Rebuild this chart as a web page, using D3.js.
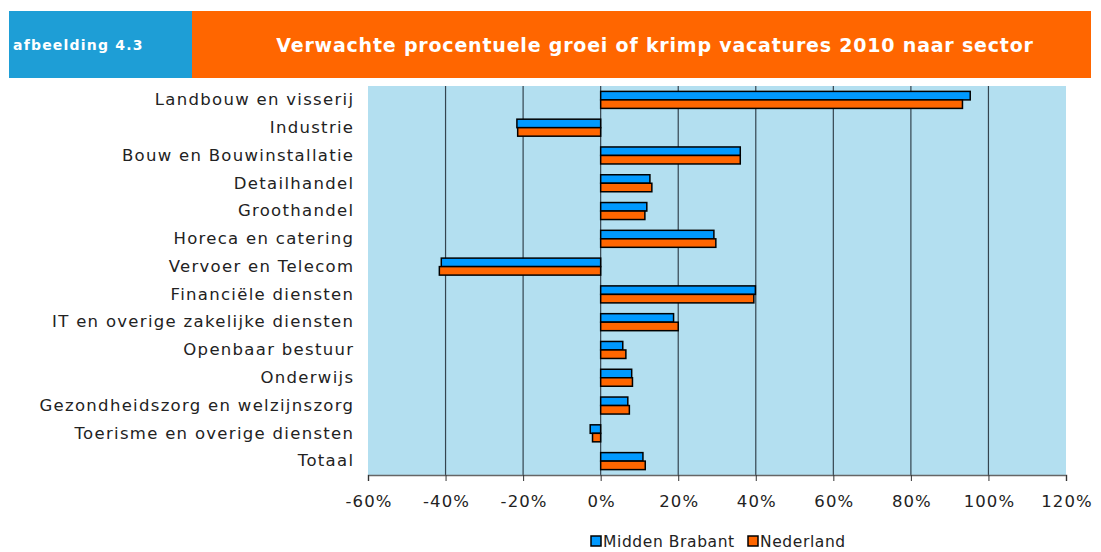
<!DOCTYPE html>
<html>
<head>
<meta charset="utf-8">
<script src="https://cdn.jsdelivr.net/npm/d3@7"></script>
<style>
  body { margin: 0; background: #fff; }
  svg { display: block; font-family: "DejaVu Sans", Verdana, sans-serif; }
</style>
</head>
<body>
<div id="chart"></div>
<script>
// Verwachte groei/krimp vacatures 2010 per sector (in %)
const sectors = [
  "Landbouw en visserij", "Industrie", "Bouw en Bouwinstallatie", "Detailhandel",
  "Groothandel", "Horeca en catering", "Vervoer en Telecom", "Financiële diensten",
  "IT en overige zakelijke diensten", "Openbaar bestuur", "Onderwijs",
  "Gezondheidszorg en welzijnszorg", "Toerisme en overige diensten", "Totaal"
];
const middenBrabant = [95.3, -21.6, 36.0, 12.7, 11.9, 29.2, -41.1, 39.9, 18.8, 5.7, 8.0, 7.0, -2.7, 10.9];
const nederland     = [93.3, -21.4, 36.0, 13.2, 11.4, 29.7, -41.6, 39.5, 20.0, 6.5, 8.2, 7.4, -2.1, 11.5];
const xTicks = [-60, -40, -20, 0, 20, 40, 60, 80, 100, 120];
const seriesNames = ["Midden Brabant", "Nederland"];
const seriesColors = ["#0099ff", "#ff6600"];

const W = 1101, H = 552;
const svg = d3.select("#chart").append("svg").attr("width", W).attr("height", H);

// kop
svg.append("rect").attr("x", 9).attr("y", 11).attr("width", 183).attr("height", 67).attr("fill", "#1e9ed6");
svg.append("rect").attr("x", 192).attr("y", 11).attr("width", 899).attr("height", 67).attr("fill", "#ff6600");
svg.append("text").attr("x", 13).attr("y", 50).attr("fill", "#fff")
  .attr("font-size", 14).attr("font-weight", "bold").attr("letter-spacing", 1.2)
  .text("afbeelding 4.3");
svg.append("text").attr("x", 655).attr("y", 52).attr("fill", "#fff").attr("text-anchor", "middle")
  .attr("font-size", 19).attr("font-weight", "bold").attr("letter-spacing", 0.8)
  .text("Verwachte procentuele groei of krimp vacatures 2010 naar sector");

const plot = { left: 368, right: 1066, top: 86, bottom: 475 };

const x = d3.scaleLinear().domain([-60, 120]).range([plot.left, plot.right]);
const y = d3.scaleBand().domain(sectors).range([plot.top, plot.bottom]);
const sub = d3.scaleBand().domain(seriesNames).range([0, 17]);

svg.append("rect")
  .attr("x", plot.left).attr("y", plot.top)
  .attr("width", plot.right - plot.left).attr("height", plot.bottom - plot.top)
  .attr("fill", "#b3dff0");

// rasterlijnen
svg.append("g").selectAll("line")
  .data(xTicks.filter(d => d > -60 && d < 120))
  .join("line")
  .attr("x1", d => x(d)).attr("x2", d => x(d))
  .attr("y1", plot.top).attr("y2", plot.bottom)
  .attr("stroke", "#34444f").attr("stroke-width", 1.2);

// x-as
const xAxis = svg.append("g")
  .attr("transform", `translate(0,${plot.bottom})`)
  .call(d3.axisBottom(x).tickValues(xTicks).tickFormat(d => d + "%").tickSize(6).tickPadding(14));
xAxis.select(".domain").attr("stroke", "#666").attr("stroke-width", 1.5);
xAxis.selectAll(".tick line").attr("stroke", "#333");
xAxis.selectAll("text").attr("font-size", 16.5).attr("fill", "#222").attr("letter-spacing", 1.1)
  .attr("dx", 0.5)
  .style("font-family", "DejaVu Sans, Verdana, sans-serif");

// y-labels
const yAxis = svg.append("g")
  .attr("transform", `translate(${plot.left},0)`)
  .call(d3.axisLeft(y).tickSize(0).tickPadding(15));
yAxis.select(".domain").remove();
yAxis.selectAll("text").attr("font-size", 16.5).attr("fill", "#222").attr("letter-spacing", 1.3)
  .attr("dx", 1.3)
  .style("font-family", "DejaVu Sans, Verdana, sans-serif");

// staven
const rows = sectors.map((s, i) => ({ sector: s, values: [middenBrabant[i], nederland[i]] }));
const offset = (y.bandwidth() - 17) / 2;
svg.append("g").selectAll("g")
  .data(rows)
  .join("g")
  .attr("transform", d => `translate(0,${y(d.sector) + offset})`)
  .selectAll("rect")
  .data(d => d.values.map((v, k) => ({ v, name: seriesNames[k], color: seriesColors[k] })))
  .join("rect")
  .attr("x", d => x(Math.min(0, d.v)))
  .attr("y", d => sub(d.name))
  .attr("width", d => Math.abs(x(d.v) - x(0)))
  .attr("height", sub.bandwidth())
  .attr("fill", d => d.color)
  .attr("stroke", "#000")
  .attr("stroke-width", 1.5);

// legenda
const legend = svg.append("g").attr("transform", "translate(591,535)");
const legX = [0, 157];
seriesNames.forEach((name, i) => {
  legend.append("rect").attr("x", legX[i]).attr("y", 1).attr("width", 10).attr("height", 10)
    .attr("fill", seriesColors[i]).attr("stroke", "#000").attr("stroke-width", 1.5);
  legend.append("text").attr("x", legX[i] + 12).attr("y", 12).attr("font-size", 15.5)
    .attr("letter-spacing", 0.6).attr("fill", "#222").text(name);
});
</script>
</body>
</html>
